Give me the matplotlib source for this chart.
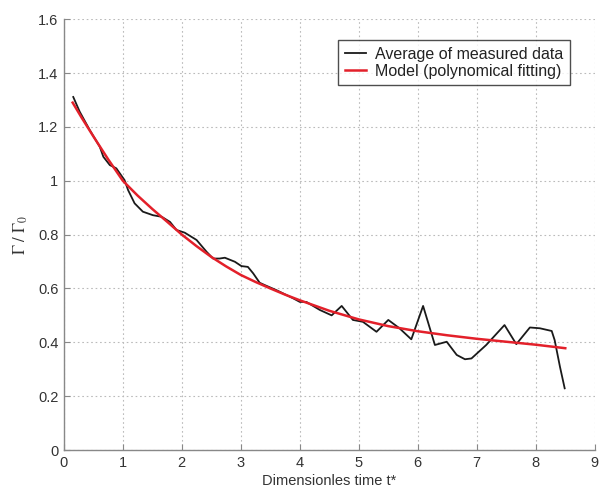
import matplotlib
matplotlib.use("Agg")
import matplotlib.pyplot as plt

t_meas = [0.16, 0.27, 0.44, 0.61, 0.67, 0.78, 0.89, 1.03, 1.09, 1.20, 1.34, 1.51, 1.66,
          1.80, 1.91, 2.05, 2.25, 2.42, 2.53, 2.64, 2.73, 2.90, 3.01, 3.12, 3.21, 3.32,
          3.41, 3.60, 3.89, 4.00, 4.11, 4.34, 4.54, 4.71, 4.90, 5.07, 5.30, 5.50, 5.69,
          5.89, 6.09, 6.29, 6.49, 6.66, 6.80, 6.91, 7.16, 7.47, 7.67, 7.90, 8.07, 8.27,
          8.32, 8.41, 8.49]
g_meas = [1.311, 1.256, 1.188, 1.126, 1.089, 1.058, 1.046, 1.002, 0.965, 0.916, 0.885,
          0.872, 0.866, 0.847, 0.817, 0.807, 0.780, 0.736, 0.711, 0.711, 0.714, 0.699,
          0.683, 0.680, 0.656, 0.621, 0.612, 0.594, 0.563, 0.550, 0.550, 0.520, 0.500,
          0.535, 0.483, 0.476, 0.439, 0.483, 0.452, 0.411, 0.535, 0.390, 0.402, 0.353,
          0.337, 0.340, 0.390, 0.464, 0.393, 0.455, 0.452, 0.442, 0.408, 0.309, 0.229]

# Model (polynomial fitting)
t_model = [0.15, 0.3, 0.5, 0.75, 1.0, 1.25, 1.5, 1.75, 2.0, 2.25, 2.5, 2.75, 3.0, 3.25,
           3.5, 3.75, 4.0, 4.5, 5.0, 5.5, 6.0, 6.5, 7.0, 7.5, 8.0, 8.5]
g_model = [1.290, 1.235, 1.165, 1.080, 1.000, 0.945, 0.895, 0.848, 0.800, 0.757, 0.717,
           0.682, 0.650, 0.624, 0.600, 0.577, 0.556, 0.517, 0.485, 0.460, 0.441, 0.426,
           0.413, 0.402, 0.391, 0.378]

x_ticks = [0, 1, 2, 3, 4, 5, 6, 7, 8, 9]
y_ticks = [0, 0.2, 0.4, 0.6, 0.8, 1.0, 1.2, 1.4, 1.6]
y_ticklabels = ["0", "0.2", "0.4", "0.6", "0.8", "1", "1.2", "1.4", "1.6"]

plt.rcParams['font.family'] = ['Liberation Sans', 'DejaVu Sans']
plt.rcParams['mathtext.fontset'] = 'stix'
txt = '#333333'

fig = plt.figure(figsize=(6.02, 4.91), dpi=100)
ax = fig.add_axes([0.106, 0.0835, 0.882, 0.8775])

ax.plot(t_meas, g_meas, color='#1a1a1a', lw=1.3, label='Average of measured data', zorder=3)
ax.plot(t_model, g_model, color='#e3202a', lw=1.8, label='Model (polynomical fitting)', zorder=4)

ax.set_xlim(0, 9)
ax.set_ylim(0, 1.6)
ax.set_xticks(x_ticks)
ax.set_xticklabels([str(v) for v in x_ticks])
ax.set_yticks(y_ticks)
ax.set_yticklabels(y_ticklabels)
ax.tick_params(direction='in', length=4, colors='#888888', labelcolor=txt, labelsize=10.5, pad=4)

ax.grid(True, linestyle=(0, (1.5, 2.5)), color='#bbbbbb', lw=0.8)
for s in ['top', 'right']:
    ax.spines[s].set_visible(False)
for s in ['left', 'bottom']:
    ax.spines[s].set_color('#888888')
    ax.spines[s].set_linewidth(1.0)

ax.set_xlabel('Dimensionles time t*', fontsize=10.5, color=txt, labelpad=3)
ax.set_ylabel(r'$\Gamma\ /\ \Gamma_0$', fontsize=12, color=txt, labelpad=6)

leg = ax.legend(loc='upper right', bbox_to_anchor=(0.953, 0.951), borderaxespad=0,
                fontsize=11.5, frameon=True, fancybox=False, handlelength=1.3,
                handletextpad=0.6, borderpad=0.4, labelspacing=0.15)
leg.get_frame().set_edgecolor('#222222')
leg.get_frame().set_linewidth(1.0)
for t in leg.get_texts():
    t.set_color('#222222')

fig.savefig('out.png', dpi=100)
